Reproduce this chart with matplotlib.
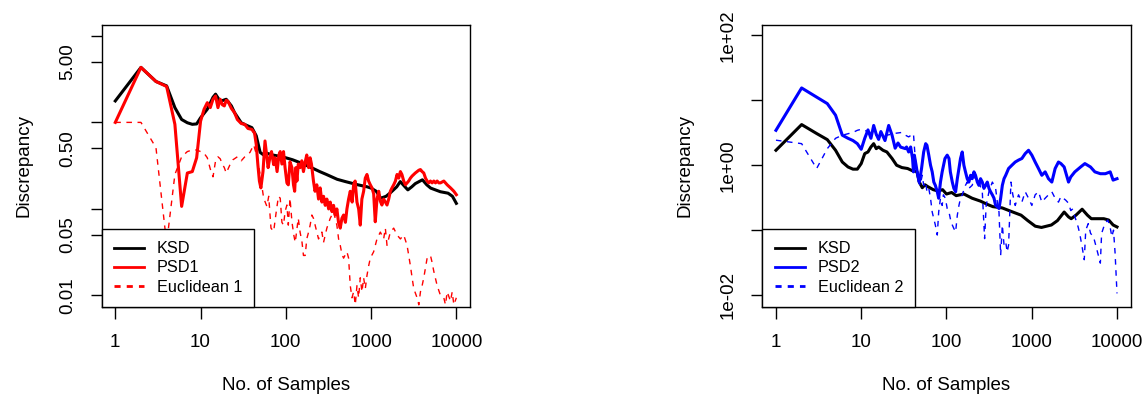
import matplotlib
matplotlib.use("Agg")
import matplotlib.pyplot as plt
from matplotlib.lines import Line2D
from matplotlib.ticker import NullLocator

plt.rcParams["font.family"] = ["Liberation Sans", "DejaVu Sans"]

# ---- left panel: KSD / PSD1 / Euclidean 1 ----
n_ksd1 = [1, 2, 3, 4, 5, 6, 7, 8, 9, 10, 12, 14, 15, 17, 20, 23, 25, 30, 35, 40,
          45, 50, 55, 60, 70, 80, 90, 100, 120, 150, 200, 250, 300, 400, 500,
          700, 900, 1000, 1150, 1300, 1500, 1700, 2000, 2200, 2500, 2700, 3000,
          3300, 4000, 4500, 5000, 6500, 8000, 9000, 10000]
ksd1 = [1.77, 4.32, 2.97, 2.64, 1.48, 1.08, 0.99, 0.95, 0.96, 1.13, 1.42, 1.95,
        2.12, 1.75, 1.85, 1.55, 1.30, 0.99, 0.92, 0.87, 0.70, 0.45, 0.42, 0.44,
        0.42, 0.41, 0.40, 0.39, 0.37, 0.34, 0.30, 0.27, 0.25, 0.22, 0.207,
        0.19, 0.18, 0.174, 0.16, 0.133, 0.14, 0.155, 0.18, 0.207, 0.18, 0.166,
        0.18, 0.196, 0.217, 0.19, 0.174, 0.158, 0.152, 0.14, 0.116]

n_psd1 = [1, 2, 3, 4, 5, 6, 7, 8, 9, 10, 11, 12, 13, 14, 15, 16, 17, 18, 19, 20,
          21, 23, 25, 27, 30, 33, 36, 40, 43, 45, 47, 49, 51, 54, 57, 59, 62,
          65, 68, 72, 75, 79, 83, 86, 90, 94, 98, 103, 107, 112, 118, 123, 127,
          131, 135, 140, 147, 154, 161, 170, 176, 185, 193, 200, 211, 220, 231,
          242, 253, 265, 277, 290, 303, 318, 332, 348, 363, 380, 397, 415, 435,
          455, 476, 500, 521, 545, 570, 600, 624, 650, 683, 715, 747, 780, 818,
          855, 895, 935, 980, 1025, 1072, 1120, 1173, 1230, 1284, 1340, 1405,
          1470, 1538, 1610, 1683, 1760, 1842, 1930, 2016, 2110, 2207, 2300,
          2415, 2530, 2643, 2760, 2893, 3030, 3166, 3300, 3465, 3630, 3793,
          3970, 4151, 4350, 4543, 4750, 4972, 5200, 5442, 5700, 5956, 6230,
          6519, 7134, 7808, 8546, 9353, 10000]
psd1 = [1.00, 4.32, 2.97, 2.60, 0.95, 0.107, 0.26, 0.27, 0.39, 1.03, 1.42, 1.69,
        1.48, 1.85, 2.02, 1.48, 1.85, 1.60, 1.55, 1.80, 1.75, 1.45, 1.30, 1.08,
        0.97, 0.95, 0.85, 0.83, 0.75, 0.555, 0.325, 0.21, 0.175, 0.27, 0.61,
        0.46, 0.30, 0.39, 0.46, 0.325, 0.39, 0.27, 0.42, 0.46, 0.33, 0.46,
        0.30, 0.20, 0.19, 0.35, 0.30, 0.19, 0.16, 0.30, 0.21, 0.33, 0.30, 0.36,
        0.27, 0.36, 0.42, 0.30, 0.39, 0.33, 0.21, 0.16, 0.19, 0.13, 0.175,
        0.12, 0.14, 0.11, 0.13, 0.10, 0.12, 0.093, 0.11, 0.085, 0.10, 0.07,
        0.06, 0.078, 0.085, 0.07, 0.10, 0.13, 0.16, 0.12, 0.19, 0.21, 0.12,
        0.10, 0.065, 0.13, 0.16, 0.227, 0.25, 0.21, 0.19, 0.175, 0.15, 0.071,
        0.13, 0.16, 0.123, 0.111, 0.13, 0.12, 0.111, 0.13, 0.16, 0.175, 0.19,
        0.21, 0.25, 0.227, 0.27, 0.25, 0.21, 0.19, 0.20, 0.21, 0.227, 0.24,
        0.25, 0.26, 0.27, 0.28, 0.285, 0.27, 0.26, 0.227, 0.21, 0.20, 0.21,
        0.20, 0.21, 0.20, 0.21, 0.20, 0.20, 0.21, 0.19, 0.175, 0.16, 0.146]

n_euc1 = [1, 2, 3, 4, 5, 6, 7, 8, 9, 10, 11, 12, 13, 14, 15, 16, 17, 18, 19, 20,
          22, 24, 27, 30, 33, 38, 42, 46, 50, 55, 60, 63, 67, 72, 78, 82, 86,
          90, 94, 98, 103, 107, 112, 118, 124, 129, 140, 147, 155, 161, 169,
          176, 185, 193, 202, 211, 231, 242, 253, 265, 277, 290, 303, 332, 363,
          397, 416, 435, 455, 476, 521, 545, 570, 597, 624, 653, 683, 714, 747,
          782, 818, 856, 895, 937, 980, 1072, 1173, 1284, 1405, 1470, 1538,
          1683, 1842, 2016, 2207, 2415, 2643, 2893, 3030, 3166, 3465, 3630,
          3793, 3970, 4151, 4543, 4972, 5200, 5442, 5956, 6519, 7134, 7460,
          7808, 8546, 8940, 9353, 10000]
euc1 = [1.00, 1.00, 0.51, 0.04, 0.25, 0.40, 0.46, 0.48, 0.48, 0.46, 0.44, 0.39,
        0.29, 0.235, 0.36, 0.40, 0.38, 0.33, 0.30, 0.26, 0.32, 0.37, 0.40, 0.36,
        0.40, 0.45, 0.55, 0.40, 0.25, 0.133, 0.107, 0.14, 0.06, 0.055, 0.10,
        0.14, 0.133, 0.07, 0.065, 0.093, 0.111, 0.065, 0.133, 0.071, 0.05,
        0.041, 0.078, 0.054, 0.041, 0.029, 0.029, 0.045, 0.054, 0.065, 0.085,
        0.078, 0.054, 0.045, 0.05, 0.054, 0.041, 0.05, 0.06, 0.078, 0.093,
        0.065, 0.045, 0.038, 0.03, 0.027, 0.032, 0.027, 0.013, 0.0094, 0.011,
        0.0078, 0.013, 0.0094, 0.016, 0.011, 0.016, 0.012, 0.017, 0.022, 0.027,
        0.032, 0.045, 0.054, 0.045, 0.06, 0.038, 0.054, 0.06, 0.05, 0.045,
        0.05, 0.038, 0.022, 0.016, 0.012, 0.0094, 0.0078, 0.011, 0.013, 0.016,
        0.027, 0.029, 0.024, 0.019, 0.013, 0.010, 0.0094, 0.0078, 0.011,
        0.0086, 0.011, 0.0078, 0.0094]

# ---- right panel: KSD / PSD2 / Euclidean 2 ----
n_ksd2 = [1, 2, 3, 4, 5, 6, 7, 8, 9, 10, 11, 12, 13, 14, 15, 16, 18, 20, 23, 26,
          30, 35, 40, 45, 48, 52, 56, 60, 70, 80, 90, 100, 115, 130, 160, 200,
          250, 300, 350, 450, 600, 750, 900, 1100, 1300, 1700, 2000, 2400, 2700,
          2900, 3300, 3900, 4500, 5000, 6000, 7000, 8000, 9000, 10000]
ksd2 = [1.70, 4.23, 3.08, 2.48, 1.70, 1.12, 0.94, 0.87, 0.87, 1.06, 1.51, 1.60,
        1.91, 2.15, 1.80, 1.91, 1.70, 1.60, 1.27, 1.00, 0.92, 0.89, 0.82, 0.80,
        0.55, 0.45, 0.50, 0.47, 0.42, 0.40, 0.42, 0.36, 0.38, 0.34, 0.36, 0.31,
        0.28, 0.25, 0.23, 0.22, 0.19, 0.17, 0.14, 0.115, 0.11, 0.12, 0.14,
        0.19, 0.16, 0.15, 0.17, 0.21, 0.17, 0.15, 0.15, 0.15, 0.143, 0.12,
        0.112]

n_psd2 = [1, 2, 3, 4, 5, 6, 7, 8, 9, 10, 11, 12, 13, 14, 15, 16, 17, 19, 21, 23,
          25, 27, 29, 33, 34, 36, 38, 40, 41, 42, 44, 46, 48, 51, 54, 57, 59,
          62, 65, 68, 71, 74, 78, 81, 85, 89, 96, 102, 107, 111, 117, 122, 128,
          134, 140, 146, 153, 160, 167, 175, 183, 192, 200, 210, 219, 230, 240,
          251, 263, 275, 288, 301, 315, 329, 345, 361, 377, 395, 413, 432, 452,
          473, 495, 535, 585, 640, 700, 766, 838, 917, 1003, 1097, 1200, 1313,
          1437, 1572, 1720, 1881, 2058, 2199, 2400, 2700, 2869, 3200, 3744,
          4200, 4887, 5500, 6378, 7300, 8323, 9000, 10000]
psd2 = [3.45, 15.5, 11.2, 8.9, 5.9, 2.9, 2.6, 2.4, 2.15, 1.76, 2.6, 3.5, 2.6,
        4.1, 3.0, 2.5, 3.3, 2.4, 4.1, 2.9, 1.83, 2.2, 1.9, 1.80, 1.91, 1.60,
        1.91, 1.27, 0.79, 1.43, 1.0, 0.70, 0.55, 0.89, 1.60, 2.15, 2.03, 1.43,
        1.0, 0.79, 0.55, 0.49, 0.39, 0.31, 0.55, 0.79, 1.27, 1.43, 1.27, 0.79,
        0.55, 0.44, 0.39, 0.62, 0.89, 1.27, 1.60, 1.0, 0.79, 0.62, 0.55, 0.70,
        0.62, 0.79, 0.70, 0.55, 0.49, 0.62, 0.55, 0.44, 0.49, 0.55, 0.44, 0.39,
        0.35, 0.31, 0.24, 0.23, 0.215, 0.31, 0.49, 0.62, 0.70, 0.89, 1.0, 1.12,
        1.20, 1.27, 1.51, 1.70, 1.43, 1.12, 0.89, 0.70, 0.79, 0.62, 0.55, 0.89,
        1.12, 1.06, 0.94, 0.55, 0.66, 0.79, 0.94, 1.06, 0.94, 0.79, 0.74, 0.74,
        0.79, 0.59, 0.62]

n_euc2 = [1, 2, 3, 4, 5, 6, 8, 9, 10, 12, 15, 18, 20, 25, 30, 33, 36, 41, 43,
          45, 47, 49, 52, 54, 57, 59, 62, 65, 68, 71, 74, 78, 81, 85, 89, 92,
          97, 102, 107, 111, 117, 122, 128, 134, 140, 146, 153, 167, 175, 183,
          200, 219, 240, 263, 280, 292, 315, 345, 377, 395, 413, 432, 452, 473,
          495, 515, 535, 570, 600, 640, 700, 766, 838, 917, 1003, 1097, 1200,
          1313, 1437, 1572, 1720, 1881, 2058, 2199, 2500, 2700, 2869, 3000,
          3300, 3500, 3650, 3900, 4130, 4300, 4600, 4900, 5300, 5700, 6378,
          6600, 7200, 7800, 8300, 8700, 9100, 9500, 10000]
euc2 = [2.43, 2.15, 0.89, 1.80, 2.6, 2.9, 3.2, 3.45, 3.58, 3.3, 2.9, 2.6, 2.9,
        3.1, 3.2, 2.9, 2.73, 3.07, 1.27, 0.89, 0.55, 0.49, 0.70, 0.49, 0.55,
        0.39, 0.44, 0.31, 0.19, 0.15, 0.12, 0.084, 0.19, 0.31, 0.24, 0.35, 0.31,
        0.215, 0.19, 0.15, 0.12, 0.106, 0.094, 0.17, 0.24, 0.31, 0.35, 0.49,
        0.55, 0.44, 0.49, 0.70, 0.55, 0.39, 0.074, 0.24, 0.39, 0.55, 0.44,
        0.27, 0.19, 0.041, 0.12, 0.059, 0.066, 0.046, 0.059, 0.55, 0.35, 0.24,
        0.35, 0.27, 0.39, 0.31, 0.24, 0.35, 0.39, 0.27, 0.31, 0.35, 0.39, 0.31,
        0.27, 0.33, 0.29, 0.26, 0.20, 0.21, 0.143, 0.112, 0.089, 0.055, 0.035,
        0.10, 0.126, 0.089, 0.079, 0.055, 0.031, 0.089, 0.126, 0.143, 0.112,
        0.079, 0.10, 0.044, 0.0106]

x_ticks = [1, 10, 100, 1000, 10000]
x_labels = ["1", "10", "100", "1000", "10000"]
y_ticks_left = [0.01, 0.05, 0.1, 0.5, 1, 5, 10]
y_labels_left = ["0.01", "0.05", "", "0.50", "", "5.00", ""]
y_ticks_right = [0.01, 0.1, 1, 10, 100]
y_labels_right = ["1e-02", "", "1e+00", "", "1e+02"]

RED = "#ff0000"
BLUE = "#0000ff"
FS = 13.5


def panel(ax, ksd, n_ksd, psd, n_psd, euc, n_euc, color, names,
          yticks, ylabels, ylim):
    ax.plot(n_ksd, ksd, color="black", lw=2.2)
    ax.plot(n_psd, psd, color=color, lw=2.2)
    ax.plot(n_euc, euc, color=color, lw=1.0, linestyle=(0, (4, 4)))
    ax.set_xscale("log")
    ax.set_yscale("log")
    ax.set_xlim(10 ** -0.16, 10 ** 4.16)
    ax.set_ylim(*ylim)
    ax.xaxis.set_minor_locator(NullLocator())
    ax.yaxis.set_minor_locator(NullLocator())
    ax.set_xticks(x_ticks)
    ax.set_xticklabels(x_labels, fontsize=FS)
    ax.set_yticks(yticks)
    ax.set_yticklabels(ylabels, fontsize=FS, rotation=90, va="center")
    ax.tick_params(axis="x", length=8.5, width=1, pad=11)
    ax.tick_params(axis="y", length=8, width=1, pad=10.5)
    for s in ax.spines.values():
        s.set_linewidth(1)
    ax.set_xlabel("No. of Samples", fontsize=FS, labelpad=19)
    ax.set_ylabel("Discrepancy", fontsize=FS, labelpad=19)

    handles = [
        Line2D([], [], color="black", lw=2),
        Line2D([], [], color=color, lw=2),
        Line2D([], [], color=color, lw=2, linestyle=(0, (2.2, 2.2))),
    ]
    leg = ax.legend(handles, names, loc="lower left", bbox_to_anchor=(0, 0),
                    borderaxespad=0, fancybox=False, framealpha=1,
                    edgecolor="black", fontsize=11.7, handlelength=1.85,
                    handletextpad=0.8, borderpad=0.75, labelspacing=0.25)
    leg.get_frame().set_linewidth(1)


fig = plt.figure(figsize=(11.46, 4.07), dpi=100)
ax1 = fig.add_axes([0.0887, 0.2464, 0.3214, 0.6921])
ax2 = fig.add_axes([0.6652, 0.2464, 0.3214, 0.6921])

panel(ax1, ksd1, n_ksd1, psd1, n_psd1, euc1, n_euc1, RED,
      ["KSD", "PSD1", "Euclidean 1"], y_ticks_left, y_labels_left,
      (10 ** -2.13, 10 ** 1.125))
panel(ax2, ksd2, n_ksd2, psd2, n_psd2, euc2, n_euc2, BLUE,
      ["KSD", "PSD2", "Euclidean 2"], y_ticks_right, y_labels_right,
      (10 ** -2.18, 10 ** 2.16))

fig.savefig("out.png", dpi=100, facecolor="white")
